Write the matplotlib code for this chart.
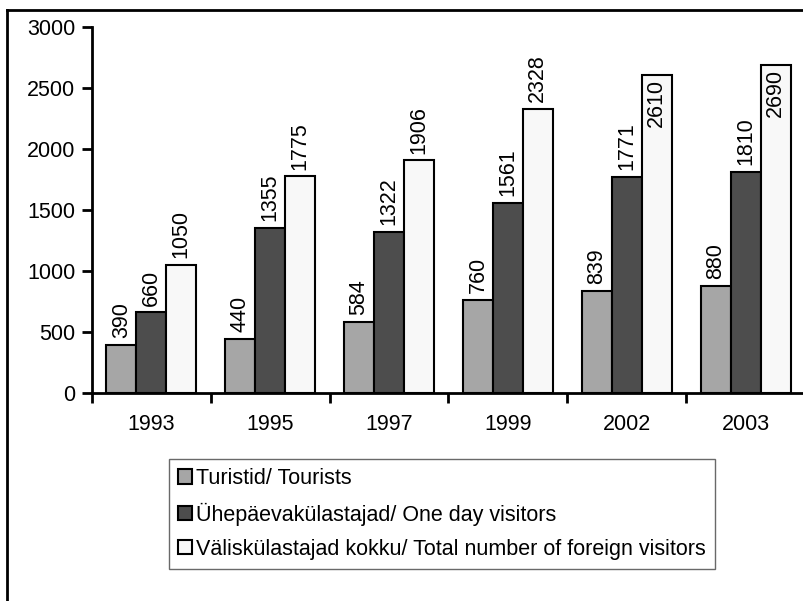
# Foreign visitors by year - grouped bar chart
import numpy as np
import matplotlib.pyplot as plt
from matplotlib.lines import Line2D

plt.rcParams['font.family'] = ['Liberation Sans', 'DejaVu Sans']

years = ['1993', '1995', '1997', '1999', '2002', '2003']
tourists = [390, 440, 584, 760, 839, 880]
one_day = [660, 1355, 1322, 1561, 1771, 1810]
total = [1050, 1775, 1906, 2328, 2610, 2690]

series_names = ['Turistid/ Tourists',
                'Ühepäevakülastajad/ One day visitors',
                'Väliskülastajad kokku/ Total number of foreign visitors']
series_colors = ['#a6a6a6', '#4d4d4d', '#f8f8f8']
fs = 15.5

fig = plt.figure(figsize=(8.04, 6.01), dpi=100)
ax = fig.add_axes([92 / 804, 1 - 393 / 601, (805 - 92) / 804, (393 - 27) / 601])

x = np.arange(len(years))
w = 0.252
all_series = [tourists, one_day, total]
for i, (vals, name, col) in enumerate(zip(all_series, series_names, series_colors)):
    bars = ax.bar(x + (i - 1) * w, vals, w, color=col, edgecolor='black',
                  linewidth=1.5, label=name, zorder=2)
    for b, v in zip(bars, vals):
        cx = b.get_x() + b.get_width() / 2
        if v > 2500:
            # no room above, Excel put these inside the bar
            ax.annotate(str(v), (cx, v), xytext=(0, -3), textcoords='offset points',
                        rotation=90, ha='center', va='top', fontsize=fs)
        else:
            ax.annotate(str(v), (cx, v), xytext=(0, 5), textcoords='offset points',
                        rotation=90, ha='center', va='bottom', fontsize=fs)

ax.set_xlim(-0.5, len(years) - 0.5)
ax.set_ylim(0, 3000)
ax.set_yticks(range(0, 3001, 500))
ax.set_xticks(np.arange(len(years) + 1) - 0.5)
ax.set_xticklabels([])
ax.set_xticks(x, minor=True)
ax.set_xticklabels(years, minor=True)
ax.tick_params(axis='x', which='minor', length=0, pad=15, labelsize=fs)
ax.tick_params(axis='x', which='major', length=7, width=2, direction='out')
ax.tick_params(axis='y', length=7, width=2, direction='out', labelsize=fs, pad=5)
for s in ['top', 'right']:
    ax.spines[s].set_visible(False)
for s in ['left', 'bottom']:
    ax.spines[s].set_linewidth(2)

leg = fig.legend(loc='upper left', bbox_to_anchor=(169 / 804, 1 - 459 / 601),
                 fontsize=fs, frameon=True, fancybox=False, edgecolor='#444444',
                 handlelength=0.65, handleheight=0.65, handletextpad=0.2,
                 labelspacing=0.62, borderpad=0.42, borderaxespad=0)
leg.get_frame().set_linewidth(1)

# chart area frame (right and bottom sides are cut off in the original)
fig.add_artist(Line2D([7 / 804, 7 / 804], [0, 1 - 10 / 601], color='black', lw=2))
fig.add_artist(Line2D([7 / 804, 1], [1 - 10 / 601, 1 - 10 / 601], color='black', lw=2))

plt.savefig('out.png', dpi=100)
